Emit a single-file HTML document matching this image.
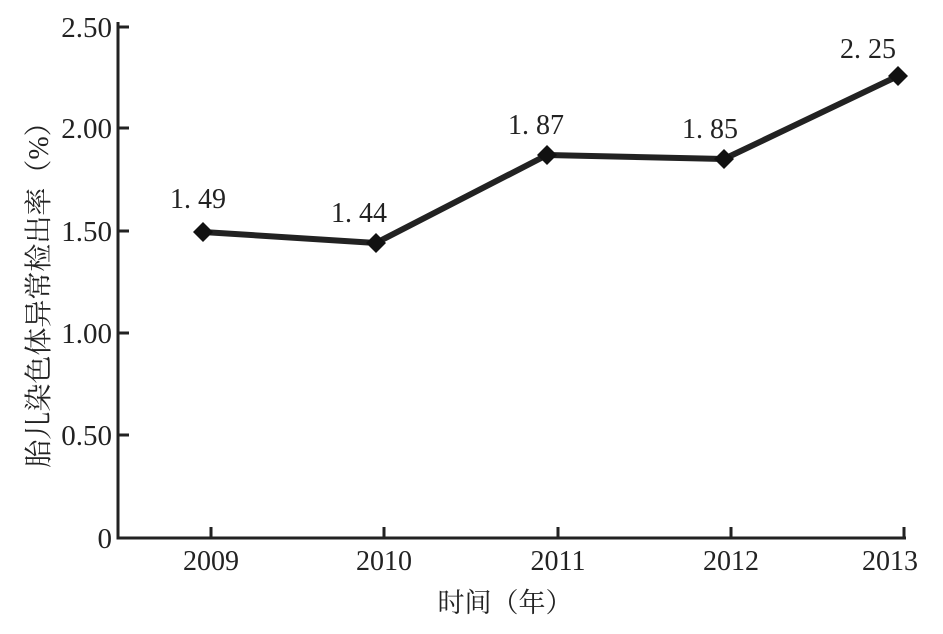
<!DOCTYPE html>
<html><head><meta charset="utf-8"><style>body{margin:0;background:#fff}</style></head>
<body>
<svg width="943" height="629" xmlns="http://www.w3.org/2000/svg" font-family="'Liberation Serif','Noto Serif CJK SC',serif" fill="#222">
<g stroke="#222" stroke-width="3" fill="none">
<polyline points="118,22 118,538 906,538"/>
<line x1="118" y1="27" x2="129" y2="27"/>
<line x1="118" y1="128" x2="129" y2="128"/>
<line x1="118" y1="231" x2="129" y2="231"/>
<line x1="118" y1="333" x2="129" y2="333"/>
<line x1="118" y1="435" x2="129" y2="435"/>
<line x1="211" y1="538" x2="211" y2="527"/>
<line x1="384" y1="538" x2="384" y2="527"/>
<line x1="558" y1="538" x2="558" y2="527"/>
<line x1="731" y1="538" x2="731" y2="527"/>
<line x1="904" y1="538" x2="904" y2="527"/>
<polyline stroke-width="6" stroke-linejoin="round" points="203,232 376,243 547,155 724,159 898,76"/>
</g>
<g fill="#111">
<polygon points="193,232 203,222 213,232 203,242"/>
<polygon points="366,243 376,233 386,243 376,253"/>
<polygon points="537,155 547,145 557,155 547,165"/>
<polygon points="714,159 724,149 734,159 724,169"/>
<polygon points="888,76 898,66 908,76 898,86"/>
</g>
<g font-size="29" text-anchor="end">
<text x="112" y="37">2.50</text>
<text x="112" y="138">2.00</text>
<text x="112" y="241">1.50</text>
<text x="112" y="343">1.00</text>
<text x="112" y="445">0.50</text>
<text x="112" y="548">0</text>
</g>
<g font-size="28" text-anchor="middle">
<text x="211" y="570">2009</text>
<text x="384" y="570">2010</text>
<text x="558" y="570">2011</text>
<text x="731" y="570">2012</text>
<text x="890" y="570">2013</text>
<text x="198" y="208">1. 49</text>
<text x="359" y="222">1. 44</text>
<text x="536" y="134">1. 87</text>
<text x="710" y="138">1. 85</text>
<text x="868" y="58">2. 25</text>
<text x="505" y="612" font-size="27">时间（年）</text>
</g>
<text font-size="28" text-anchor="middle" transform="translate(48,288) rotate(-90)">胎儿染色体异常检出率（%）</text>
</svg>
</body></html>
